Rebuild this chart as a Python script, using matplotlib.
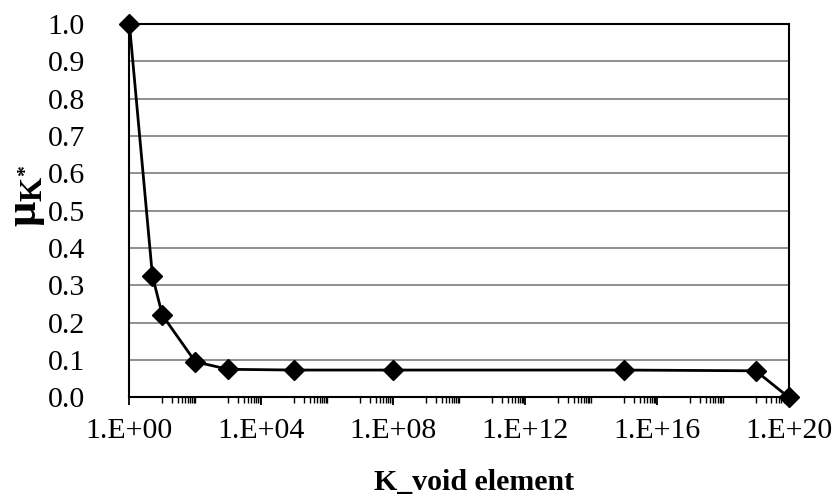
import numpy as np
import matplotlib.pyplot as plt
from matplotlib.ticker import FixedLocator, FuncFormatter, NullFormatter

plt.rcParams['font.family'] = ['Liberation Serif', 'DejaVu Serif']
plt.rcParams['mathtext.fontset'] = 'custom'
plt.rcParams['mathtext.rm'] = 'Liberation Serif'
plt.rcParams['mathtext.bf'] = 'Liberation Serif:bold'
plt.rcParams['mathtext.it'] = 'Liberation Serif:italic'

# data
k_void = [1e0, 5e0, 1e1, 1e2, 1e3, 1e5, 1e8, 1e15, 1e19, 1e20]
mu_k = [1.0, 0.325, 0.22, 0.095, 0.075, 0.073, 0.073, 0.073, 0.071, 0.0]
major_exps = [0, 4, 8, 12, 16, 20]
y_ticks = [round(0.1 * i, 1) for i in range(11)]

fig = plt.figure(figsize=(8.39, 4.96), dpi=100)
ax = fig.add_axes([129.4 / 839, 1 - 397.3 / 496, 659.3 / 839, 373.3 / 496])

ax.set_xscale('log')
ax.set_xlim(1e0, 1e20)
ax.set_ylim(0, 1)

# horizontal gridlines
ax.set_yticks(y_ticks)
ax.set_yticklabels([f"{v:.1f}" for v in y_ticks])
ax.yaxis.grid(True, color='#868686', linewidth=1.3)
ax.set_axisbelow(True)

ax.plot(k_void, mu_k, color='black', linewidth=2.0, marker='D',
        markersize=10, markerfacecolor='black', markeredgecolor='black',
        clip_on=False, zorder=5)

# x ticks: majors every 4 decades, Excel-style minor clusters
ax.xaxis.set_major_locator(FixedLocator([10.0 ** e for e in major_exps]))
ax.xaxis.set_major_formatter(FuncFormatter(lambda v, p: f"1.E+{int(round(np.log10(v))):02d}"))
minors = [k * 10.0 ** (2 * m + 1) for m in range(10) for k in range(1, 11)]
ax.xaxis.set_minor_locator(FixedLocator(minors))
ax.xaxis.set_minor_formatter(NullFormatter())

ax.tick_params(axis='x', which='major', direction='out', length=6, width=1.3,
               labelsize=21.5, pad=9)
ax.tick_params(axis='x', which='minor', direction='out', length=4.5, width=1.0)
ax.tick_params(axis='y', which='both', length=0, labelsize=21.5, pad=32)

for s in ax.spines.values():
    s.set_color('black')
    s.set_linewidth(1.5)

fig.text(474 / 839, 1 - 490 / 496, 'K_void element', ha='center', va='baseline',
         fontsize=21.5, fontweight='bold')
fig.text(27 / 839, 1 - 196 / 496, r'μ$_{\mathbf{K}^{\mathbf{*}}}$',
         rotation=90, ha='center', va='center', fontsize=32, fontweight='bold')

fig.savefig('out.png', dpi=100)
